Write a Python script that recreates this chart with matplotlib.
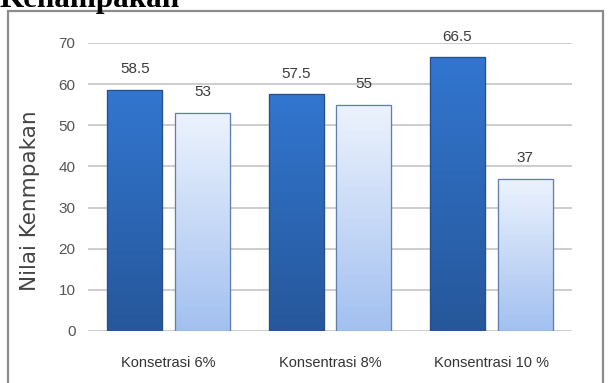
import numpy as np
import matplotlib
matplotlib.use("Agg")
import matplotlib.pyplot as plt
from matplotlib.colors import LinearSegmentedColormap
from matplotlib.patches import Rectangle

categories = ["Konsetrasi 6%", "Konsentrasi 8%", "Konsentrasi 10 %"]
series_a = [58.5, 57.5, 66.5]
series_b = [53, 55, 37]
yticks = [0, 10, 20, 30, 40, 50, 60, 70]
title = "Kenampakan"
ylabel = "Nilai Kenmpakan"

narrow = ["Liberation Sans", "DejaVu Sans"]

W, H = 609, 383
fig = plt.figure(figsize=(W / 100, H / 100), dpi=100)
fig.patch.set_facecolor("white")

# outer frame
fig.patches.append(Rectangle((8 / W, -0.02), (603 - 8) / W, 1.02 - 11 / H,
                             transform=fig.transFigure, fill=False,
                             edgecolor="#8c8c8c", linewidth=1.6))

fig.text(0.0, 1 - 7.5 / H, title, ha="left", va="baseline",
         fontsize=22.4, fontweight="bold", family="Liberation Serif", color="black")

ax = fig.add_axes([88 / W, (H - 331) / H, (572 - 88) / W, (331 - 43) / H])
ax.set_facecolor("none")
x = np.arange(len(categories))
width = 0.342
off = 0.21

bars_a = ax.bar(x - off, series_a, width, color="#2f6ec4", edgecolor="#2a4f86",
                linewidth=0.8, zorder=2)
bars_b = ax.bar(x + off, series_b, width, color="#cfe0fa", edgecolor="#5f7fae",
                linewidth=0.8, zorder=2)

cmap_a = LinearSegmentedColormap.from_list("a", ["#26579a", "#3276d0"])
cmap_b = LinearSegmentedColormap.from_list("b", ["#a2c0f0", "#edf3fd"])
grad = np.linspace(0, 1, 256).reshape(-1, 1)
for bars, cmap in ((bars_a, cmap_a), (bars_b, cmap_b)):
    for p in bars:
        x0, w, h = p.get_x(), p.get_width(), p.get_height()
        im = ax.imshow(grad, cmap=cmap, aspect="auto", origin="lower",
                       extent=(x0, x0 + w, 0, h), zorder=2.5)
        im.set_clip_path(p)
        ax.add_patch(Rectangle((x0, 0), w, h, fill=False,
                               edgecolor=p.get_edgecolor(), linewidth=0.9, zorder=3))

for bars in (bars_a, bars_b):
    ax.bar_label(bars, labels=[f"{v:g}" for v in bars.datavalues], padding=10,
                 fontsize=11, family=narrow, color="#3a3a3a")

ax.set_xlim(-0.5, 2.5)
ax.set_ylim(0, 70)
ax.set_yticks(yticks)
ax.set_xticks(x)
ax.set_xticklabels(categories, fontsize=10.5, family=narrow, color="#333333")
for lab in ax.get_yticklabels():
    lab.set_fontsize(11)
    lab.set_family(narrow)
    lab.set_color("#555555")
ax.tick_params(axis="y", length=0, pad=9)
ax.tick_params(axis="x", length=0, pad=18)
ax.grid(axis="y", color="#cdcdcd", linewidth=1.4, zorder=0)
ax.set_axisbelow(True)
for s in ax.spines.values():
    s.set_visible(False)

fig.text(30 / W, 1 - 201 / H, ylabel, rotation=90, ha="center", va="center",
         fontsize=15.5, family="DejaVu Sans", color="#444444")

fig.savefig("out.png", dpi=100)
